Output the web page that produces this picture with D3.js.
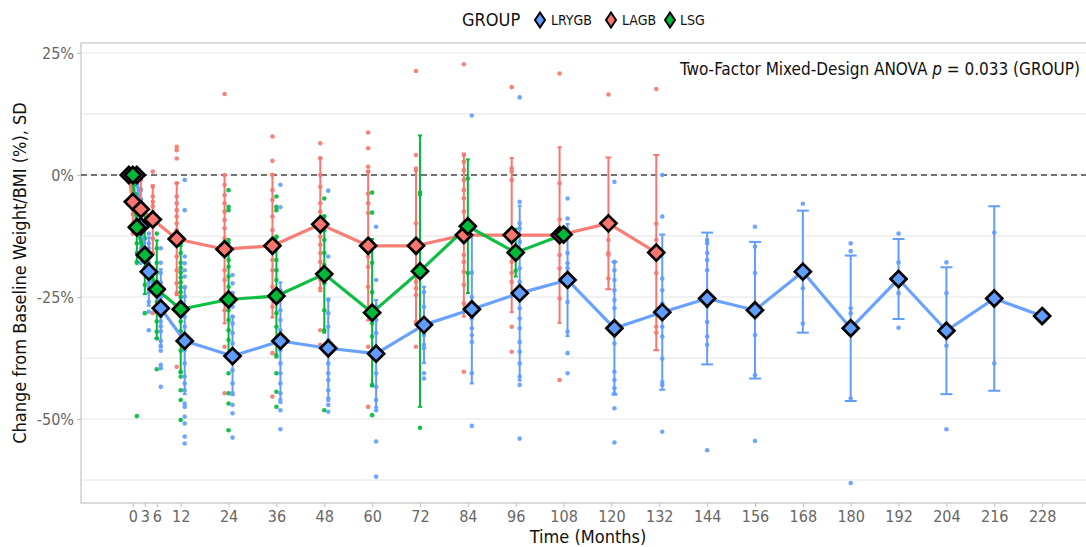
<!DOCTYPE html>
<html>
<head>
<meta charset="utf-8">
<script src="https://cdn.jsdelivr.net/npm/d3@7"></script>
<style>
  html, body { margin: 0; padding: 0; background: #fff; }
  svg { display: block; }
  text { font-family: 'Liberation Sans Narrow', 'DejaVu Sans Condensed', 'Roboto Condensed', sans-serif; }
</style>
</head>
<body>
<svg id="chart" width="1086" height="547"></svg>
<script>
// ---------------- DATA ----------------
const groups = ["LRYGB", "LAGB", "LSG"];
const groupColors = ["#619CFF", "#F8766D", "#00BA38"];
const dodgeOrder = ["LAGB", "LSG", "LRYGB"];

const times = [0, 1, 3, 6, 12, 24, 36, 48, 60, 72, 84, 96, 108, 120, 132, 144, 156, 168, 180, 192, 204, 216, 228];
const xTickValues = [0, 3, 6, 12, 24, 36, 48, 60, 72, 84, 96, 108, 120, 132, 144, 156, 168, 180, 192, 204, 216, 228];
const yTickValues = [25, 0, -25, -50];
const yGridValues = [25, 12.5, 0, -12.5, -25, -37.5, -50, -62.5];

// group means (%), aligned with times; null = no data
const meanLRYGB = [0, -10.5, -19.8, -27.3, -34.0, -37.1, -34.0, -35.5, -36.6, -30.7, -27.5, -24.2, -21.5, -31.4, -28.1, -25.3, -27.7, -19.8, -31.4, -21.3, -31.9, -25.3, -28.9];
const meanLAGB  = [0, -5.5, -7.0, -9.1, -13.1, -15.2, -14.5, -10.1, -14.5, -14.5, -12.3, -12.3, -12.3, -9.9, -15.9, null, null, null, null, null, null, null, null];
const meanLSG   = [0, -10.7, -16.4, -23.4, -27.5, -25.5, -24.8, -20.3, -28.2, -19.7, -10.5, -15.9, -12.2, null, null, null, null, null, null, null, null, null, null];

// standard deviations (%), aligned with times; null = no bar
const sdLRYGB = [0, 5, 7, 8, 10.9, 8, 12, 10.2, 11, 7.8, 15.2, 17.9, 11.5, 13.6, 15.9, 13.5, 14, 12.5, 14.9, 8.2, 13, 18.9, null];
const sdLAGB  = [0, 5, 6, 7, 11.5, 15.2, 14.7, 13.7, 15.3, 16, 16.7, 15.8, 18, 13.5, 20, null, null, null, null, null, null, null, null];
const sdLSG   = [0, 7, 8, 10, 13, 11.6, 12, 12, 15.1, 27.8, 13.7, 4.9, null, null, null, null, null, null, null, null, null, null, null];

// individual observations (%), [time, values]
const ptsLRYGB = [
  [0, [0, 0, 0, 0, 0]],
  [1, [-3, -5, -7, -8, -9, -10, -11, -12, -13, -14, -16, -18]],
  [3, [-12, -14, -15, -16, -17, -18, -19, -20, -21, -22, -23, -24, -26, -28, -31.8]],
  [6, [-15, -18, -20, -22, -24, -25, -26, -27, -28, -29, -30, -31, -32, -34, -35, -36, -38.9, -39.6, -43.4]],
  [12, [-1, -7.2, -16.7, -18.1, -19.5, -20.8, -22.9, -24.9, -27, -29, -31.1, -33.1, -35.9, -38.6, -41.3, -42.7, -44.1, -46.8, -47.5, -49.5, -50.9, -53.6, -55.0]],
  [24, [-20.5, -22.2, -24.2, -27, -29, -30.4, -32.4, -34.5, -37.2, -40, -42.7, -44.7, -47.1, -48.8, -53.8]],
  [36, [-2, -6.6, -23.6, -25.6, -27.7, -29.7, -31.8, -33.8, -35.9, -38.6, -40.6, -42.7, -44.7, -46.5, -48.2, -52.1]],
  [48, [-3.2, -16.7, -25.6, -28.3, -31.1, -33.8, -36.5, -38.6, -40.6, -42, -44.1, -46.1, -47.1, -48.5]],
  [60, [-10.6, -21.5, -27, -29.7, -32.4, -35.2, -37.9, -40.6, -43.4, -46.1, -48.2, -54.6, -61.8]],
  [72, [-20, -24, -27, -31.4, -32.8, -34.8, -35.5, -40.6, -41.7]],
  [84, [12.2, -20, -25, -29.4, -31.4, -32.8, -34.2, -40.6, -51.4]],
  [96, [15.9, -5.5, -9.9, -10.9, -13.7, -16.4, -19.1, -21.9, -24.6, -27.3, -29.4, -31.4, -34.2, -36.2, -38.6, -41.3, -43, -54]],
  [108, [-4.8, -8.9, -11.3, -16, -18.1, -19.1, -22.5, -26, -32.1, -36.5, -40.6]],
  [120, [-1.4, -17.8, -19.5, -21.5, -23.6, -25.6, -27.3, -34.5, -40.3, -42, -43.7, -44.7, -47.8, -54.8]],
  [132, [0, -8.5, -21.2, -23.6, -26.3, -28.3, -31.1, -33.1, -37.6, -42.4, -43, -52.6]],
  [144, [-13.3, -14, -16, -17.4, -19.5, -25.3, -27, -30.1, -33.1, -34.8, -56.4]],
  [156, [-10.6, -14.7, -20.1, -27.7, -32.8, -41, -54.5]],
  [168, [-5.9, -23.2, -30.4]],
  [180, [-14, -15.6, -27.3, -28.3, -45.8, -63.1]],
  [192, [-12, -17.9, -24.2, -31.3]],
  [204, [-17.9, -24.2, -35, -52.1]],
  [216, [-11.8, -38.6]],
  [228, [-28.9]]
];
const ptsLAGB = [
  [0, [0, 0, 0]],
  [1, [-1, -2, -3, -4, -5, -6, -7, -8, -10, -12]],
  [3, [-1, -3, -5, -6, -7, -8, -9, -10, -12, -15]],
  [6, [0.7, -2.4, -4.4, -5.5, -6.4, -7.5, -9.9, -10.5, -13, -16, -28.3]],
  [12, [5.8, 5.1, 3.4, -1.7, -4.4, -5.8, -7.2, -8.5, -9.9, -11.3, -12.6, -14.3, -16.7, -19.5, -22.2, -24.2, -39.3]],
  [24, [16.6, 0, -2, -4.1, -5.8, -7.5, -9.2, -10.9, -13, -16, -19.5, -21.5, -25.6, -27.7, -35.2, -44.7]],
  [36, [7.9, 2.9, 0, -3.1, -5.1, -8.5, -11.3, -15.4, -17.4, -19.5, -22.9, -24.9, -27, -36.5, -45.4]],
  [48, [6.5, 3.4, 0, -2.4, -5.8, -7.5, -10.6, -12.6, -14.3, -16, -17.8, -21.5, -23.2, -31.8, -34.8]],
  [60, [8.7, 5.5, 1.7, 0.7, -3.8, -5.8, -7.8, -14.7, -16.7, -18.8, -22.9, -28.3, -35.2, -47.5]],
  [72, [21.3, 4.1, 1, -9.9, -13.3, -16, -19.1, -21.9, -23.2, -24.6, -30.1, -35.2]],
  [84, [22.7, 4.1, 2.7, 1, -1, -3.1, -4.8, -7.5, -12.3, -16.4, -17.8, -19.8, -22.5, -26.3, -40.3]],
  [96, [18, 1.4, 0.7, -1, -12.3, -16.4, -17.8, -20.1, -21.9, -31.1, -36.2]],
  [108, [20.8, -1.7, -9.1, -10.9, -12.6, -16.4, -19.1, -25.3, -42]],
  [120, [16.5, -9, -13.3, -16.4, -21.2, -16]],
  [132, [17.6, -10, -13.3, -16, -20.1, -31.1, -32.3]]
];
const ptsLSG = [
  [0, [0, 0]],
  [1, [-2, -4, -6, -8, -10, -12, -14, -16, -18, -49.4]],
  [3, [-8, -11, -13, -15, -17, -19, -22.5, -28.3]],
  [6, [-12, -15, -18, -20, -22, -24, -26, -28, -30, -32.1, -33.5, -39.8]],
  [12, [-14, -16, -18, -19, -20, -21, -22, -23, -24, -25, -26, -27, -28, -29, -30, -32, -34, -36, -40.3, -41.3, -44.1, -46.1, -50.2]],
  [24, [-3.1, -6.5, -7.2, -13.3, -15.4, -17.4, -18.8, -20.8, -22.9, -25.6, -27.7, -29.7, -31.8, -33.8, -37.2, -40.6, -44.7, -46.8, -52.3]],
  [36, [-4.4, -6.5, -7.2, -12.6, -17.4, -19.5, -21.5, -24.2, -28.3, -31.1, -34.5, -37.2, -40.6, -44.4, -47.5]],
  [48, [-4.8, -8.5, -11.3, -13.3, -16, -18.4, -20.1, -22.2, -27.7, -31.8, -48.2]],
  [60, [-3.6, -7.7, -18, -24, -28.3, -30.4, -33.1, -36, -43, -49.2]],
  [72, [-3.6, -4, -19, -51.8]],
  [84, [-0.7, -10.5, -20.1]],
  [96, [-12, -19.6]],
  [108, [-12.2]]
];

const annotationPre = "Two-Factor Mixed-Design ANOVA ";
const annotationP = "p";
const annotationPost = " = 0.033 (GROUP)";
const xTitle = "Time (Months)";
const yTitle = "Change from Baseline Weight/BMI (%), SD";
const legendTitle = "GROUP";

// ---------------- CHART ----------------
const svg = d3.select("#chart");
const panel = { left: 81, top: 43, right: 1087, bottom: 503 };

const x = d3.scaleLinear().domain([-13, 239]).range([panel.left, panel.right - 1]);
const y = d3.scaleLinear().domain([-67.2, 27.05]).range([panel.bottom, panel.top]);

const means = { LRYGB: meanLRYGB, LAGB: meanLAGB, LSG: meanLSG };
const sds = { LRYGB: sdLRYGB, LAGB: sdLAGB, LSG: sdLSG };
const pts = { LRYGB: ptsLRYGB, LAGB: ptsLAGB, LSG: ptsLSG };
const color = d3.scaleOrdinal().domain(groups).range(groupColors);

// dodge (position_dodge width = 3 months)
const dodgeW = 3;
function dodgeInfo(ti) {
  const present = dodgeOrder.filter(g => means[g][ti] !== null);
  const n = present.length;
  const info = {};
  present.forEach((g, i) => {
    info[g] = { off: -dodgeW / 2 + dodgeW / n * (i + 0.5), half: dodgeW / (2 * n) };
  });
  return info;
}
const dodge = times.map((t, i) => dodgeInfo(i));
function xPos(g, t) {
  const ti = times.indexOf(t);
  return x(t + dodge[ti][g].off);
}

// grid
svg.append("g").selectAll("line").data(yGridValues).join("line")
  .attr("x1", panel.left).attr("x2", panel.right)
  .attr("y1", d => y(d)).attr("y2", d => y(d))
  .attr("stroke", "#e3e3e3").attr("stroke-width", 1);

// panel border
svg.append("rect")
  .attr("x", panel.left).attr("y", panel.top)
  .attr("width", panel.right - panel.left).attr("height", panel.bottom - panel.top)
  .attr("fill", "none").attr("stroke", "#cfcfcf").attr("stroke-width", 1.5);

// zero reference line
svg.append("line")
  .attr("x1", panel.left).attr("x2", panel.right)
  .attr("y1", y(0)).attr("y2", y(0))
  .attr("stroke", "#4a4a4a").attr("stroke-width", 1.3).attr("stroke-dasharray", "6,4");

// axes
const yAxis = d3.axisLeft(y).tickValues(yTickValues).tickFormat(d => d + "%").tickSize(4).tickPadding(3);
const gy = svg.append("g").attr("transform", `translate(${panel.left},0)`).call(yAxis);
gy.select(".domain").remove();
gy.selectAll(".tick line").attr("stroke", "#bdbdbd");
gy.selectAll(".tick text").attr("fill", "#666").style("font-size", "16px");

const xAxis = d3.axisBottom(x).tickValues(xTickValues).tickSize(4).tickPadding(4);
const gx = svg.append("g").attr("transform", `translate(0,${panel.bottom})`).call(xAxis);
gx.select(".domain").remove();
gx.selectAll(".tick line").attr("stroke", "#bdbdbd");
gx.selectAll(".tick text").attr("fill", "#666").style("font-size", "16px");

// individual points
const dotData = [];
dodgeOrder.forEach(g => {
  pts[g].forEach(([t, vals]) => vals.forEach(v => dotData.push({ g, t, v })));
});
svg.append("g").selectAll("circle").data(dotData).join("circle")
  .attr("cx", d => xPos(d.g, d.t)).attr("cy", d => y(d.v)).attr("r", 2.3)
  .attr("fill", d => color(d.g)).attr("fill-opacity", 0.9);

// error bars
const barData = [];
dodgeOrder.forEach(g => {
  times.forEach((t, i) => {
    const m = means[g][i], s = sds[g][i];
    if (m !== null && s !== null && s > 0) barData.push({ g, t, i, m, s });
  });
});
const gb = svg.append("g");
barData.forEach(d => {
  const cx = xPos(d.g, d.t);
  const hw = x(dodge[d.i][d.g].half) - x(0);
  const c = color(d.g);
  const gg = gb.append("g").attr("stroke", c).attr("stroke-width", 2).attr("fill", "none");
  gg.append("line").attr("x1", cx).attr("x2", cx).attr("y1", y(d.m + d.s)).attr("y2", y(d.m - d.s));
  gg.append("line").attr("x1", cx - hw).attr("x2", cx + hw).attr("y1", y(d.m + d.s)).attr("y2", y(d.m + d.s));
  gg.append("line").attr("x1", cx - hw).attr("x2", cx + hw).attr("y1", y(d.m - d.s)).attr("y2", y(d.m - d.s));
});

// lines
const line = d3.line().x(d => xPos(d.g, d.t)).y(d => y(d.m));
["LRYGB", "LAGB", "LSG"].forEach(g => {
  const data = times.map((t, i) => ({ g, t, m: means[g][i] })).filter(d => d.m !== null);
  svg.append("path").datum(data).attr("d", line)
    .attr("fill", "none").attr("stroke", color(g)).attr("stroke-width", 3.2)
    .attr("stroke-linejoin", "round").attr("stroke-opacity", 0.95);
});

// mean diamonds
const diamond = (cx, cy, rx, ry) => `M${cx},${cy - ry}L${cx + rx},${cy}L${cx},${cy + ry}L${cx - rx},${cy}Z`;
const diaData = [];
["LRYGB", "LAGB", "LSG"].forEach(g => {
  times.forEach((t, i) => { if (means[g][i] !== null) diaData.push({ g, t, m: means[g][i] }); });
});
svg.append("g").selectAll("path").data(diaData).join("path")
  .attr("d", d => diamond(xPos(d.g, d.t), y(d.m), 8, 8))
  .attr("fill", d => color(d.g)).attr("stroke", "#000").attr("stroke-width", 2.7)
  .attr("stroke-linejoin", "miter");

// annotation
const ann = svg.append("text").attr("x", 1080).attr("y", 75).attr("text-anchor", "end")
  .attr("fill", "#111").style("font-size", "17px");
ann.append("tspan").text(annotationPre);
ann.append("tspan").text(annotationP).style("font-style", "italic");
ann.append("tspan").text(annotationPost);

// axis titles
svg.append("text").attr("x", 588).attr("y", 543).attr("text-anchor", "middle")
  .attr("fill", "#111").style("font-size", "18px").text(xTitle);
svg.append("text").attr("transform", `translate(26,${273}) rotate(-90)`).attr("text-anchor", "middle")
  .attr("fill", "#111").style("font-size", "18px").text(yTitle);

// legend
const lg = svg.append("g");
lg.append("text").attr("x", 462).attr("y", 26).attr("fill", "#111").style("font-size", "18px").text(legendTitle);
const legendPos = [{ g: "LRYGB", kx: 540, tx: 551 }, { g: "LAGB", kx: 611, tx: 622 }, { g: "LSG", kx: 670, tx: 680 }];
legendPos.forEach(p => {
  lg.append("path").attr("d", diamond(p.kx, 20, 5, 7.5))
    .attr("fill", color(p.g)).attr("stroke", "#000").attr("stroke-width", 2);
  lg.append("text").attr("x", p.tx).attr("y", 25).attr("fill", "#111").style("font-size", "14px").text(p.g);
});
</script>
</body>
</html>
